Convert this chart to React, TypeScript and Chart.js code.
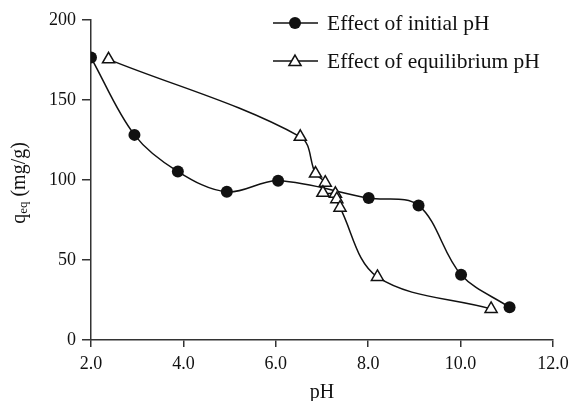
import React, { useEffect, useRef } from "react";
import { Chart, registerables } from "chart.js";

Chart.register(...registerables);

// ---- data ----
const initialPH = [2.0, 2.94, 3.88, 4.94, 6.05, 8.01, 9.09, 10.01, 11.06];
const initialQ = [176.5, 128.2, 105.3, 92.6, 99.5, 88.7, 84.1, 40.8, 20.4];

const equilPH = [2.38, 6.53, 6.86, 7.07, 7.02, 7.29, 7.32, 7.39, 8.2, 10.66];
const equilQ = [175.4, 127.0, 104.0, 98.3, 92.0, 91.4, 88.0, 82.7, 39.4, 19.4];

const xMin = 2;
const xMax = 12;
const xStep = 2;
const yMin = 0;
const yMax = 200;
const yStep = 50;

const legendLabels = ["Effect of initial pH", "Effect of equilibrium pH"];
const xTitle = "pH";
const yTitleMain = "q";
const yTitleSub = "eq";
const yTitleRest = " (mg/g)";

const FONT = "'Liberation Serif', 'Times New Roman', serif";
const INK = "#111";
const AXIS = "#333";

function drawTriangle(ctx: CanvasRenderingContext2D, x: number, y: number, r: number) {
  ctx.beginPath();
  let rad = 0;
  ctx.moveTo(x + Math.sin(rad) * r, y - Math.cos(rad) * r);
  rad += (2 * Math.PI) / 3;
  ctx.lineTo(x + Math.sin(rad) * r, y - Math.cos(rad) * r);
  rad += (2 * Math.PI) / 3;
  ctx.lineTo(x + Math.sin(rad) * r, y - Math.cos(rad) * r);
  ctx.closePath();
  ctx.fillStyle = "#fff";
  ctx.fill();
  ctx.strokeStyle = INK;
  ctx.lineWidth = 1.5;
  ctx.stroke();
}

const decorPlugin = {
  id: "decor",
  afterDraw(chart: any) {
    const ctx: CanvasRenderingContext2D = chart.ctx;
    const ca = chart.chartArea;
    ctx.save();

    // x title
    ctx.fillStyle = INK;
    ctx.font = `20px ${FONT}`;
    ctx.textAlign = "center";
    ctx.textBaseline = "middle";
    ctx.fillText(xTitle, (ca.left + ca.right) / 2, ca.bottom + 53);

    // y title with subscript
    const mainFont = `20px ${FONT}`;
    const subFont = `13px ${FONT}`;
    ctx.font = mainFont;
    const wMain = ctx.measureText(yTitleMain).width;
    const wRest = ctx.measureText(yTitleRest).width;
    ctx.font = subFont;
    const wSub = ctx.measureText(yTitleSub).width;
    const total = wMain + wSub + wRest;
    ctx.translate(20, (ca.top + ca.bottom) / 2 + 3);
    ctx.rotate(-Math.PI / 2);
    ctx.textAlign = "left";
    ctx.textBaseline = "middle";
    let px = -total / 2;
    ctx.font = mainFont;
    ctx.fillText(yTitleMain, px, 0);
    px += wMain;
    ctx.font = subFont;
    ctx.fillText(yTitleSub, px, 4);
    px += wSub;
    ctx.font = mainFont;
    ctx.fillText(yTitleRest, px, 0);
    ctx.setTransform(1, 0, 0, 1, 0, 0);

    // legend
    const rows = [23, 61];
    legendLabels.forEach((label, i) => {
      const y = rows[i];
      ctx.strokeStyle = INK;
      ctx.lineWidth = 1.5;
      ctx.beginPath();
      ctx.moveTo(273, y);
      ctx.lineTo(318, y);
      ctx.stroke();
      if (i === 0) {
        ctx.beginPath();
        ctx.arc(295, y, 6, 0, Math.PI * 2);
        ctx.fillStyle = INK;
        ctx.fill();
      } else {
        drawTriangle(ctx, 295, y + 1, 7);
      }
      ctx.fillStyle = INK;
      ctx.font = `21.5px ${FONT}`;
      ctx.textAlign = "left";
      ctx.textBaseline = "middle";
      ctx.fillText(label, 327, y + 1);
    });

    ctx.restore();
  },
};

export default function App() {
  const ref = useRef<HTMLCanvasElement | null>(null);

  useEffect(() => {
    document.body.style.margin = "0";
    const canvas = ref.current;
    if (!canvas) return;

    const initialData = initialPH.map((x, i) => ({ x, y: initialQ[i] }));
    const equilData = equilPH.map((x, i) => ({ x, y: equilQ[i] }));

    const chart = new Chart(canvas, {
      type: "scatter",
      data: {
        datasets: [
          {
            label: legendLabels[1],
            data: equilData,
            showLine: true,
            tension: 0.35,
            borderColor: INK,
            borderWidth: 1.5,
            pointStyle: "triangle",
            pointRadius: 7,
            pointBackgroundColor: "#fff",
            pointBorderColor: INK,
            pointBorderWidth: 1.5,
            order: 0,
          },
          {
            label: legendLabels[0],
            data: initialData,
            showLine: true,
            tension: 0.35,
            borderColor: INK,
            borderWidth: 1.5,
            pointStyle: "circle",
            pointRadius: 6,
            pointBackgroundColor: INK,
            pointBorderColor: INK,
            pointBorderWidth: 0,
            order: 1,
          },
        ],
      },
      options: {
        responsive: false,
        animation: false,
        events: [],
        layout: { padding: { left: 0, right: 17, top: 20, bottom: 0 } },
        plugins: {
          legend: { display: false },
          tooltip: { enabled: false },
        },
        scales: {
          x: {
            type: "linear",
            min: xMin,
            max: xMax,
            afterFit: (s: any) => {
              s.height = 61;
              s.paddingRight = 0;
              s.paddingLeft = 0;
            },
            ticks: {
              stepSize: xStep,
              padding: 6,
              color: INK,
              font: { family: FONT, size: 18 },
              callback: (v: any) => Number(v).toFixed(1),
            },
            grid: {
              display: true,
              drawOnChartArea: false,
              drawTicks: true,
              tickLength: 7,
              color: AXIS,
              lineWidth: 1.5,
            },
            border: { display: true, color: AXIS, width: 1.5 },
          },
          y: {
            type: "linear",
            min: yMin,
            max: yMax,
            afterFit: (s: any) => {
              s.width = 91;
              s.paddingTop = 0;
              s.paddingBottom = 0;
            },
            ticks: {
              stepSize: yStep,
              padding: 6,
              color: INK,
              font: { family: FONT, size: 18 },
            },
            grid: {
              display: true,
              drawOnChartArea: false,
              drawTicks: true,
              tickLength: 9,
              color: AXIS,
              lineWidth: 1.5,
            },
            border: { display: true, color: AXIS, width: 1.5 },
          },
        },
      },
      plugins: [decorPlugin],
    });

    return () => chart.destroy();
  }, []);

  return (
    <div style={{ width: 570, height: 401, background: "#fff" }}>
      <canvas ref={ref} width={570} height={401} style={{ display: "block" }} />
    </div>
  );
}
